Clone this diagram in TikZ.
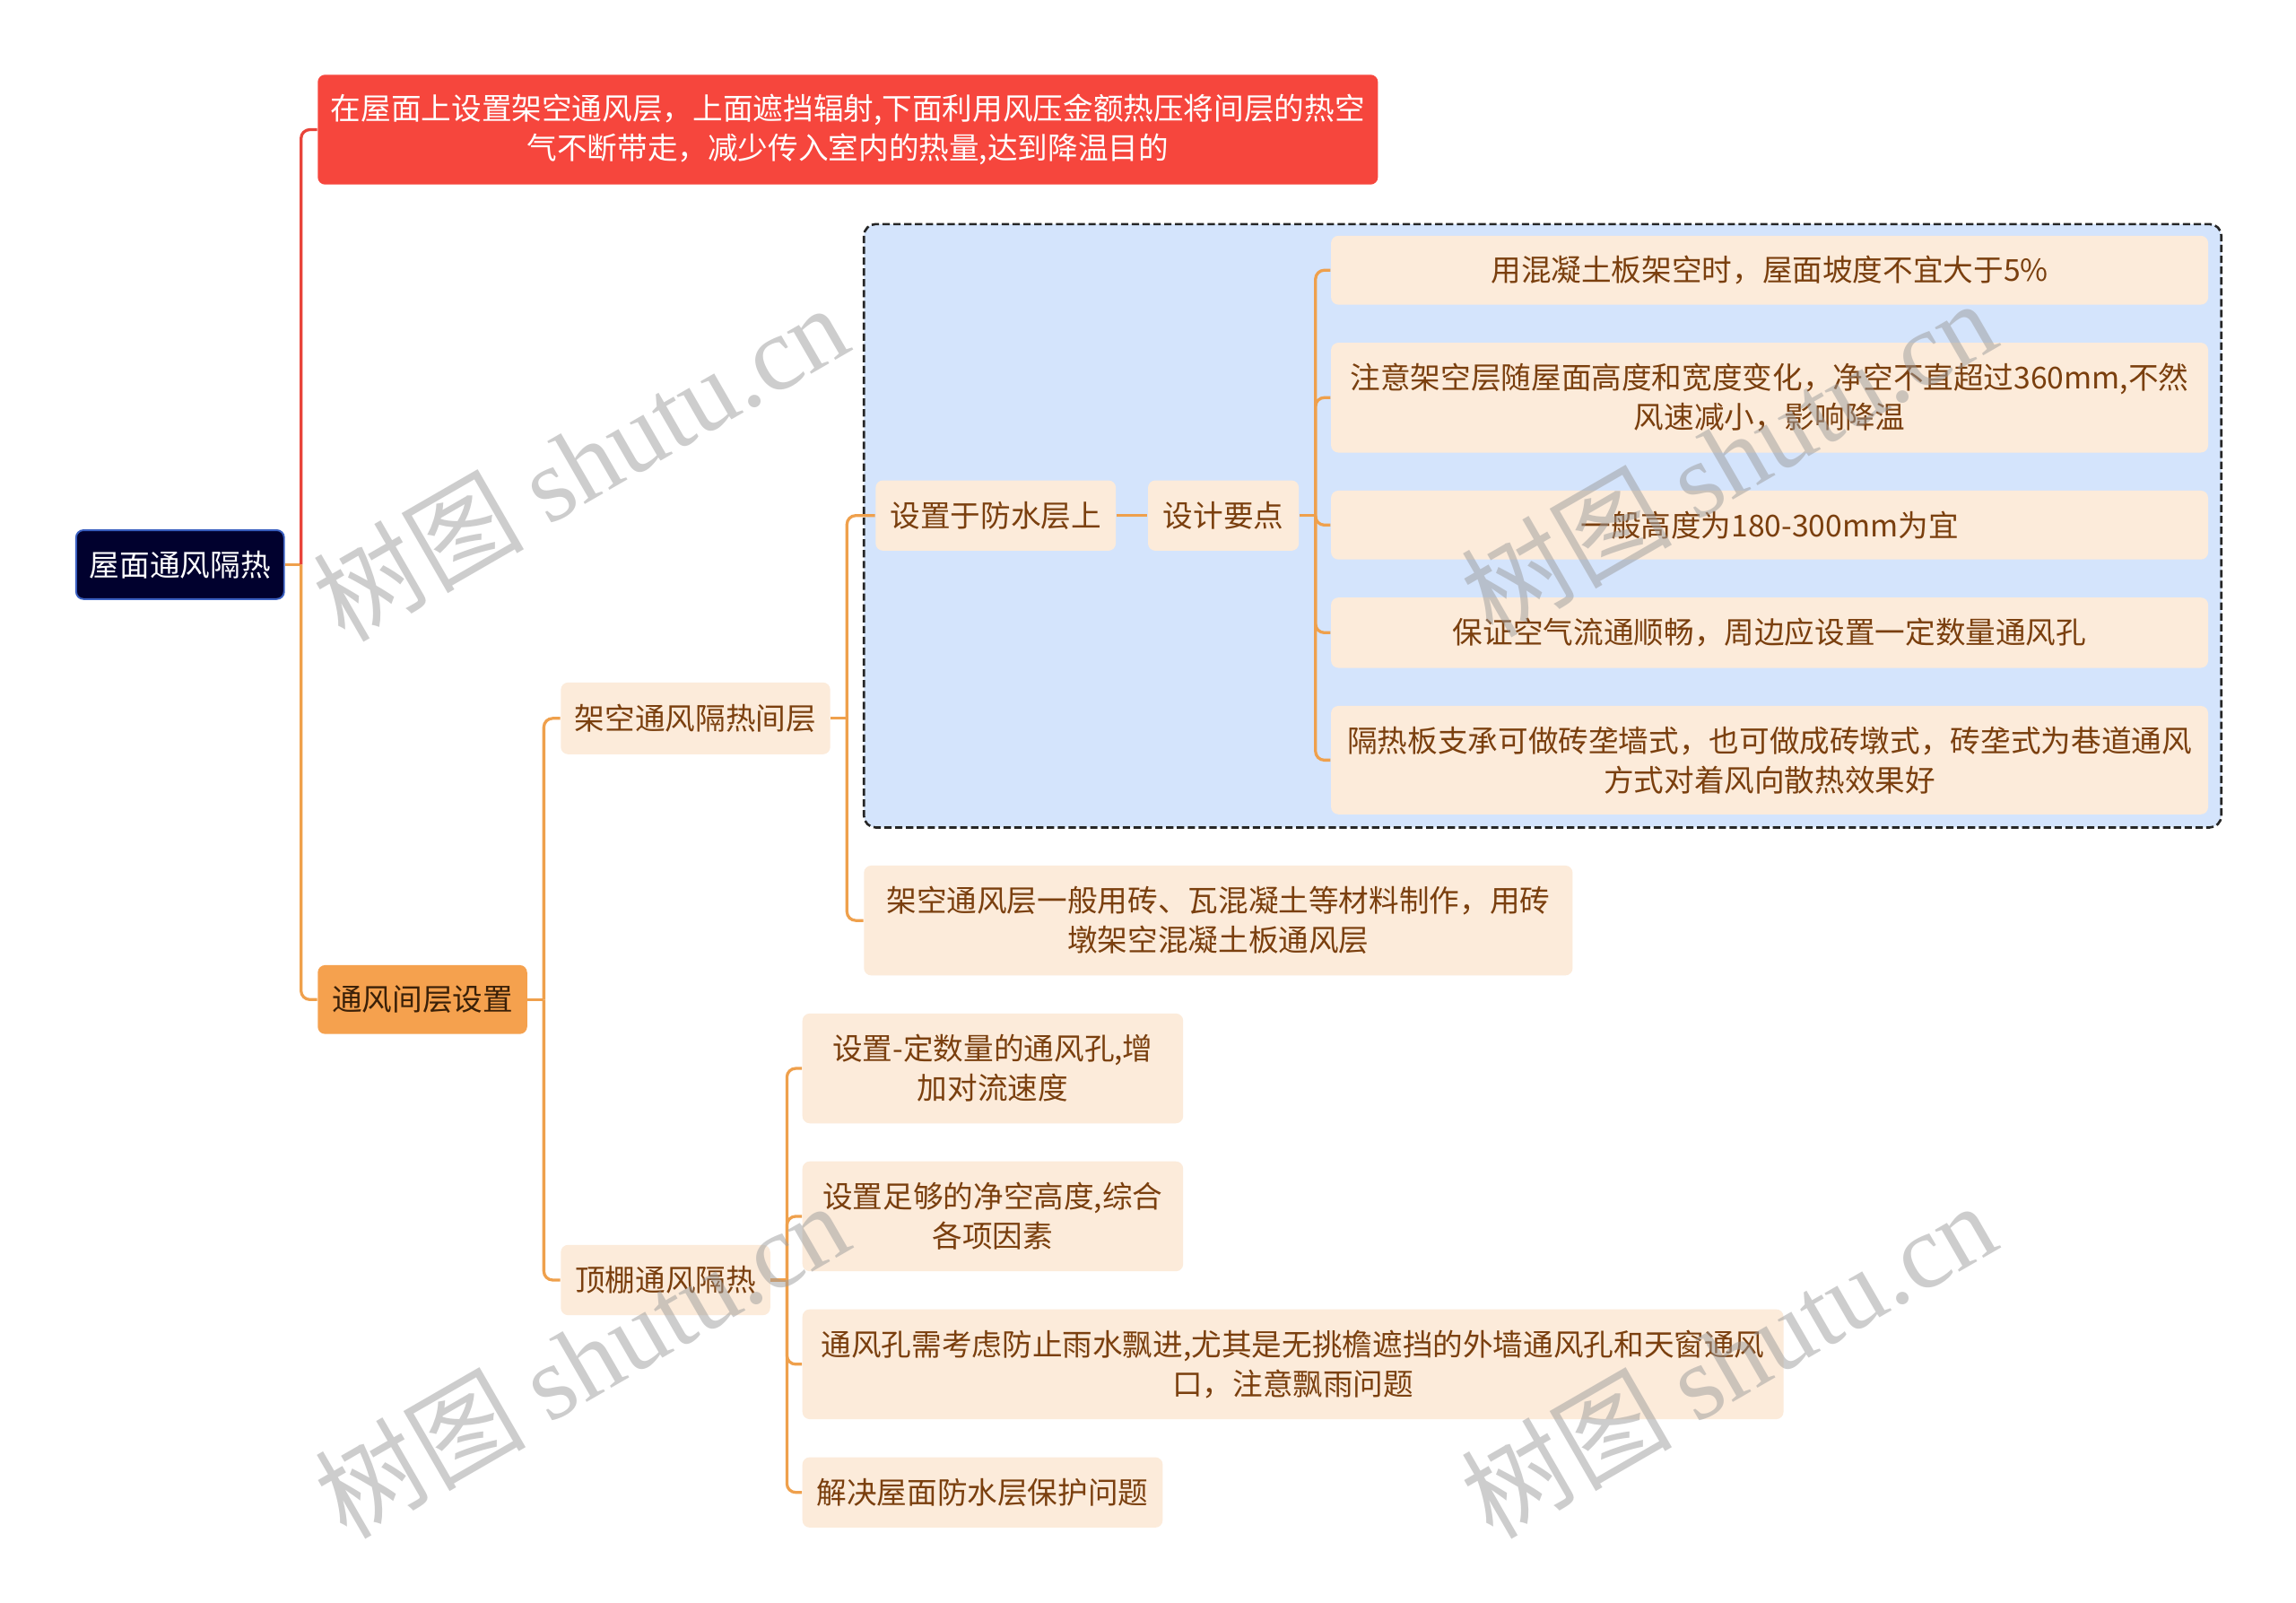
\documentclass[tikz,border=0pt]{standalone}
\usepackage{fontspec}
\setmainfont{Noto Sans CJK SC}
\newfontfamily\wmlatin{Liberation Serif}
\definecolor{linec}{HTML}{EFA04C}
\definecolor{redline}{HTML}{E8443A}
\definecolor{redfill}{HTML}{F6463D}
\definecolor{orfill}{HTML}{F5A14E}
\definecolor{peach}{HTML}{FCEBDA}
\definecolor{bluefill}{HTML}{D4E4FC}
\definecolor{navy}{HTML}{01012E}
\definecolor{navyedge}{HTML}{3A5FC0}
\definecolor{brownt}{HTML}{7A3F0E}
\definecolor{darkt}{HTML}{3A2008}
\definecolor{wmgray}{HTML}{9C9C9C}
\begin{document}
\begin{tikzpicture}[x=0.5pt,y=-0.5pt,
  box/.style={rounded corners=2.5pt, inner sep=0pt, align=center, font=\fontsize{10.3}{13.5}\selectfont},
  rootbox/.style={box, fill=navy, draw=navyedge, line width=0.6pt, text=white},
  redbox/.style={box, fill=redfill, text=white},
  orbox/.style={box, fill=orfill, text=darkt},
  leaf/.style={box, fill=peach, text=brownt},
  link/.style={draw=linec, line width=1pt},
  redlink/.style={draw=redline, line width=1pt},
  grpbox/.style={fill=bluefill, draw=black!85, line width=0.8pt, dash pattern=on 2.5pt off 1.2pt, rounded corners=4pt},
  wm/.style={text=wmgray, text opacity=0.5, font=\fontsize{36}{36}\selectfont, rotate=30, inner sep=0pt}
]
\useasboundingbox (0,0) rectangle (1568,1094);
\fill[white] (0,0) rectangle (1568,1094);

% group background
\draw[grpbox] (590,153) rectangle (1517,565);

% nodes
\node[rootbox, minimum width=71pt, minimum height=23.5pt] (root) at (123,385.5) {屋面通风隔热};
\node[redbox, minimum width=362pt, minimum height=37.5pt] (red) at (579,88.5)
  {在屋面上设置架空通风层，上面遮挡辐射,下面利用风压金额热压将间层的热空\\气不断带走，减少传入室内的热量,达到降温目的};
\node[orbox, minimum width=71.5pt, minimum height=23.5pt] (mid) at (288.5,682.5) {通风间层设置};

\node[leaf, minimum width=92pt, minimum height=24.5pt] (jk) at (475,490.5) {架空通风隔热间层};
\node[leaf, minimum width=71.5pt, minimum height=24pt] (dp) at (454.5,874) {顶棚通风隔热};

\node[leaf, minimum width=82pt, minimum height=24pt] (fs) at (680,352) {设置于防水层上};
\node[leaf, minimum width=51.5pt, minimum height=24pt] (sj) at (835.5,352) {设计要点};
\node[leaf, minimum width=242pt, minimum height=37.5pt] (cl) at (832,628.5)
  {架空通风层一般用砖、瓦混凝土等材料制作，用砖\\墩架空混凝土板通风层};

\node[leaf, minimum width=299.5pt, minimum height=23.5pt] (l1) at (1208.5,184.5) {用混凝土板架空时，屋面坡度不宜大于5\%};
\node[leaf, minimum width=299.5pt, minimum height=37.5pt] (l2) at (1208.5,271.5)
  {注意架空层随屋面高度和宽度变化，净空不直超过360mm,不然\\风速减小，影响降温};
\node[leaf, minimum width=299.5pt, minimum height=23.5pt] (l3) at (1208.5,358.5) {一般高度为180-300mm为宜};
\node[leaf, minimum width=299.5pt, minimum height=24pt] (l4) at (1208.5,432) {保证空气流通顺畅，周边应设置一定数量通风孔};
\node[leaf, minimum width=299.5pt, minimum height=37pt] (l5) at (1208.5,519)
  {隔热板支承可做砖垄墙式，也可做成砖墩式，砖垄式为巷道通风\\方式对着风向散热效果好};

\node[leaf, minimum width=130pt, minimum height=37.5pt] (d1) at (678,729.5) {设置-定数量的通风孔,增\\加对流速度};
\node[leaf, minimum width=130pt, minimum height=37.5pt] (d2) at (678,830.5) {设置足够的净空高度,综合\\各项因素};
\node[leaf, minimum width=335pt, minimum height=37.5pt] (d3) at (883,931.5)
  {通风孔需考虑防止雨水飘进,尤其是无挑檐遮挡的外墙通风孔和天窗通风\\口，注意飘雨问题};
\node[leaf, minimum width=123pt, minimum height=24pt] (d4) at (671,1019) {解决屋面防水层保护问题};

% connectors
\draw[link] (root.east) -- ++(11,0) coordinate (j0);
\draw[redlink, rounded corners=3pt] (j0) |- (red.west);
\draw[link, rounded corners=3pt] (j0) |- (mid.west);

\draw[link] (mid.east) -- ++(11,0) coordinate (j1);
\draw[link, rounded corners=3pt] (j1) |- (jk.west);
\draw[link, rounded corners=3pt] (j1) |- (dp.west);

\draw[link] (jk.east) -- ++(11,0) coordinate (j2);
\draw[link, rounded corners=3pt] (j2) |- (fs.west);
\draw[link, rounded corners=3pt] (j2) |- (cl.west);

\draw[link] (fs.east) -- (sj.west);

\draw[link] (sj.east) -- ++(11,0) coordinate (j3);
\foreach \n in {l1,l2,l3,l4,l5}
  \draw[link, rounded corners=3pt] (j3) |- (\n.west);

\draw[link] (dp.east) -- ++(11,0) coordinate (j4);
\foreach \n in {d1,d2,d3,d4}
  \draw[link, rounded corners=3pt] (j4) |- (\n.west);

% watermarks
\node[wm] (wm1) at (396,315) {树图 {\wmlatin shutu.cn}};
\node[wm] (wm2) at (1180,312) {树图 {\wmlatin shutu.cn}};
\node[wm] (wm3) at (397,928) {树图 {\wmlatin shutu.cn}};
\node[wm] (wm4) at (1180,928) {树图 {\wmlatin shutu.cn}};
\end{tikzpicture}
\end{document}
